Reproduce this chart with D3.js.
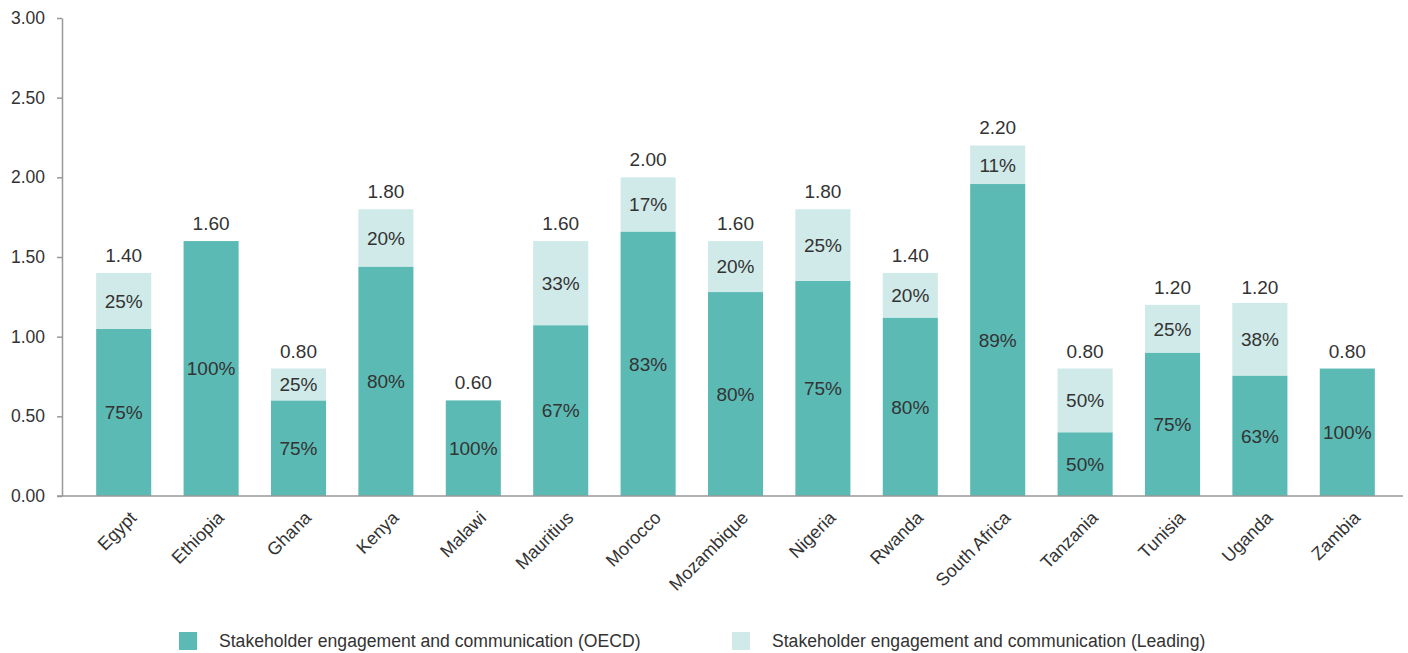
<!DOCTYPE html>
<html>
<head>
<meta charset="utf-8">
<script src="https://cdn.jsdelivr.net/npm/d3@7"></script>
<style>
  html, body { margin: 0; padding: 0; background: #fff; }
  svg { display: block; font-family: "Liberation Sans", Arial, sans-serif; }
</style>
</head>
<body>
<svg id="chart" width="1408" height="653"></svg>
<script>
// Countries along the x axis
const countries = ["Egypt", "Ethiopia", "Ghana", "Kenya", "Malawi", "Mauritius", "Morocco",
  "Mozambique", "Nigeria", "Rwanda", "South Africa", "Tanzania", "Tunisia", "Uganda", "Zambia"];
// Total score per country (label above each bar)
const totals = [1.40, 1.60, 0.80, 1.80, 0.60, 1.60, 2.00, 1.60, 1.80, 1.40, 2.20, 0.80, 1.20, 1.20, 0.80];
// Share of the total in each series, in percent
const oecdPct = [75, 100, 75, 80, 100, 67, 83, 80, 75, 80, 89, 50, 75, 63, 100];
const leadingPct = [25, 0, 25, 20, 0, 33, 17, 20, 25, 20, 11, 50, 25, 38, 0];
// Y axis ticks
const yTicks = [0, 0.5, 1, 1.5, 2, 2.5, 3];
const seriesNames = ["Stakeholder engagement and communication (OECD)",
  "Stakeholder engagement and communication (Leading)"];

const colors = ["#5cbab5", "#d0eae9"];
const textColor = "#333";

const svg = d3.select("#chart");

const y = d3.scaleLinear().domain([0, 3]).range([496, 18]);
const x = d3.scaleBand().domain(countries).range([80, 1391])
  .paddingInner(0.37).paddingOuter(0.185);

// Stack the two series: OECD at the bottom, Leading on top
const rows = countries.map((c, i) => {
  const oecd = totals[i] * oecdPct[i] / 100;
  const lead = totals[i] * leadingPct[i] / 100;
  return { country: c, total: totals[i], oecd, lead, oecdPct: oecdPct[i], leadPct: leadingPct[i] };
});

// Y axis
const yAxis = d3.axisLeft(y).tickValues(yTicks).tickFormat(d3.format(".2f"))
  .tickSize(5).tickSizeOuter(0).tickPadding(12);
const gy = svg.append("g").attr("transform", "translate(62,0)").call(yAxis);
gy.select(".domain").attr("stroke", "#999").attr("stroke-width", 1.5);
gy.selectAll(".tick line").attr("stroke", "#999").attr("stroke-width", 1.5);
gy.selectAll(".tick text").attr("fill", textColor).style("font-size", "17.5px")
  .style("font-family", "Liberation Sans, Arial, sans-serif");

// Bars
const bars = svg.append("g");
bars.selectAll("rect.oecd").data(rows).join("rect")
  .attr("class", "oecd")
  .attr("x", d => x(d.country)).attr("width", x.bandwidth())
  .attr("y", d => y(d.oecd)).attr("height", d => y(0) - y(d.oecd))
  .attr("fill", colors[0]);
bars.selectAll("rect.lead").data(rows.filter(d => d.lead > 0)).join("rect")
  .attr("class", "lead")
  .attr("x", d => x(d.country)).attr("width", x.bandwidth())
  .attr("y", d => y(d.oecd + d.lead)).attr("height", d => y(d.oecd) - y(d.oecd + d.lead))
  .attr("fill", colors[1]);

// X axis baseline
svg.append("line").attr("x1", 57).attr("x2", 1403).attr("y1", y(0)).attr("y2", y(0))
  .attr("stroke", "#999").attr("stroke-width", 1.5);

// Segment percentage labels
const labels = svg.append("g").attr("fill", textColor).style("font-size", "19px")
  .attr("text-anchor", "middle");
labels.selectAll("text.po").data(rows).join("text")
  .attr("x", d => x(d.country) + x.bandwidth() / 2)
  .attr("y", d => (y(0) + y(d.oecd)) / 2)
  .attr("dy", "0.36em")
  .text(d => d.oecdPct + "%");
labels.selectAll("text.pl").data(rows.filter(d => d.lead > 0)).join("text")
  .attr("x", d => x(d.country) + x.bandwidth() / 2)
  .attr("y", d => (y(d.oecd) + y(d.oecd + d.lead)) / 2)
  .attr("dy", "0.36em")
  .text(d => d.leadPct + "%");
// Totals above bars
labels.selectAll("text.tot").data(rows).join("text")
  .attr("x", d => x(d.country) + x.bandwidth() / 2)
  .attr("y", d => y(d.total) - 11)
  .text(d => d3.format(".2f")(d.total));

// Category labels, rotated
svg.append("g").selectAll("text").data(countries).join("text")
  .attr("transform", d => `translate(${x(d) + x.bandwidth() / 2 + 5},${y(0) + 14}) rotate(-45)`)
  .attr("text-anchor", "end")
  .attr("dy", "0.7em")
  .attr("fill", textColor)
  .style("font-size", "18px")
  .text(d => d);

// Legend
const legendX = [179, 732];
const leg = svg.append("g");
seriesNames.forEach((name, i) => {
  leg.append("rect").attr("x", legendX[i]).attr("y", 632).attr("width", 18).attr("height", 18)
    .attr("fill", colors[i]);
  leg.append("text").attr("x", legendX[i] + 40).attr("y", 641).attr("dy", "0.36em")
    .attr("fill", textColor).style("font-size", "17.6px").text(name);
});
</script>
</body>
</html>
